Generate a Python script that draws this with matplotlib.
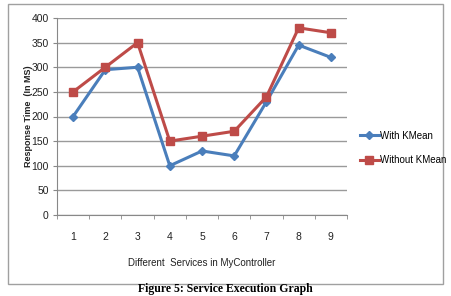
import matplotlib
matplotlib.use("Agg")
import matplotlib.pyplot as plt
from matplotlib.patches import Rectangle

plt.rcParams['font.family'] = ['Liberation Sans', 'DejaVu Sans']

categories = [1, 2, 3, 4, 5, 6, 7, 8, 9]
with_kmean = [200, 295, 300, 100, 130, 120, 230, 345, 320]
without_kmean = [250, 300, 350, 150, 160, 170, 240, 380, 370]
yticks = [0, 50, 100, 150, 200, 250, 300, 350, 400]

W, H = 451, 296
fig = plt.figure(figsize=(W/100, H/100), dpi=100)
fig.patch.set_facecolor("white")

# outer chart border
fig.patches.append(Rectangle((8/W, 1-284/H), (443-8)/W, (284-4)/H, transform=fig.transFigure,
                             fill=False, edgecolor="#a0a0a0", linewidth=1.0))

ax = fig.add_axes([57/W, 1-215/H, (347-57)/W, (215-18)/H])
x = list(range(len(categories)))
ax.plot(x, with_kmean, color="#4A7EBB", marker="D", markersize=4.5, linewidth=2.2, label="With KMean")
ax.plot(x, without_kmean, color="#BE4B48", marker="s", markersize=6, linewidth=2.2, label="Without KMean")

ax.set_xlim(-0.5, len(categories)-0.5)
ax.set_ylim(0, 400)
ax.set_yticks(yticks)
ax.set_yticklabels([str(v) for v in yticks], fontsize=7.5, color="#222222")
ax.set_xticks(x)
ax.set_xticklabels([str(c) for c in categories], fontsize=7.5, color="#222222")
ax.tick_params(axis="x", which="major", length=0, pad=12)
ax.set_xticks([i-0.5 for i in range(len(categories)+1)], minor=True)
ax.tick_params(axis="x", which="minor", length=3, color="#888888", direction="out")
ax.tick_params(axis="y", length=3, color="#888888", pad=3)
ax.grid(axis="y", color="#9a9a9a", linewidth=1)
ax.set_axisbelow(True)
for s in ["top", "right"]:
    ax.spines[s].set_visible(False)
ax.spines["left"].set_color("#888888")
ax.spines["bottom"].set_color("#888888")

ax.set_xlabel("Different  Services in MyController", fontsize=7, color="#222222", labelpad=12)
ax.set_ylabel("Response Time  (In MS)", fontsize=6.5, fontweight="bold", color="#222222", labelpad=-1)

leg = fig.legend(loc="upper left", bbox_to_anchor=(351/W, 1-122/H), frameon=False, fontsize=7,
                 handlelength=2.0, labelspacing=1.5, handletextpad=0.1)

fig.text(0.5, 1/H, "Figure 5: Service Execution Graph", ha="center", va="bottom",
         fontsize=8.5, fontweight="bold", family="Liberation Serif")

fig.savefig("out.png", dpi=100)
